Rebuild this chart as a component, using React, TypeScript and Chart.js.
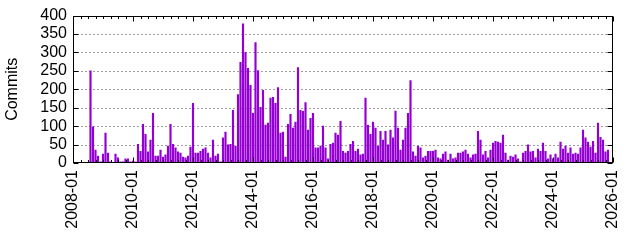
import React, { useEffect, useRef } from "react";
import { Chart, registerables } from "chart.js";

Chart.register(...registerables);

// Monthly commit counts, 2008-01 .. 2025-12 (one row per year)
const startYear = 2008;
const monthlyCommits: number[] = [
  0, 0, 0, 0, 0, 0, 0, 250, 98, 35, 19, 3, // 2008
  24, 81, 27, 3, 2, 24, 14, 3, 3, 11, 11, 3, // 2009
  5, 3, 51, 32, 105, 78, 30, 62, 135, 19, 19, 35, // 2010
  16, 22, 46, 105, 51, 41, 30, 27, 16, 14, 19, 43, // 2011
  162, 27, 27, 32, 38, 41, 27, 14, 62, 19, 24, 3, // 2012
  68, 84, 49, 51, 143, 46, 186, 273, 378, 300, 257, 211, // 2013
  135, 327, 251, 151, 197, 103, 108, 176, 178, 162, 205, 81, // 2014
  84, 16, 105, 132, 95, 111, 259, 143, 140, 164, 89, 121, // 2015
  135, 41, 41, 46, 100, 41, 11, 51, 54, 81, 76, 113, // 2016
  32, 27, 32, 51, 59, 32, 38, 22, 24, 176, 103, 78, // 2017
  111, 95, 46, 86, 62, 86, 49, 89, 68, 141, 95, 35, // 2018
  62, 95, 135, 224, 30, 19, 46, 41, 14, 19, 32, 32, // 2019
  32, 35, 14, 11, 24, 30, 8, 24, 11, 14, 27, 27, // 2020
  30, 35, 24, 14, 22, 24, 86, 62, 22, 32, 14, 35, // 2021
  54, 59, 57, 54, 76, 27, 8, 19, 16, 22, 11, 3, // 2022
  27, 32, 49, 30, 32, 14, 38, 32, 54, 32, 11, 22, // 2023
  11, 24, 14, 57, 38, 46, 27, 41, 24, 27, 24, 41, // 2024
  89, 68, 57, 43, 59, 27, 108, 70, 62, 30, 35, 0, // 2025
];

const xTickLabels = [
  "2008-01", "2010-01", "2012-01", "2014-01", "2016-01",
  "2018-01", "2020-01", "2022-01", "2024-01", "2026-01",
];
const yTicks = [0, 50, 100, 150, 200, 250, 300, 350, 400];
const yTitle = "Commits";

const FAMILY = "'Liberation Sans', Arial, sans-serif";
const FONT = { family: FAMILY, size: 16 };

const framePlugin = {
  id: "gnuplotFrame",
  beforeDatasetsDraw(chart: any) {
    const { ctx, chartArea: a, scales } = chart;
    const y = scales.y;
    ctx.save();
    ctx.strokeStyle = "#a0a0a0";
    ctx.lineWidth = 1;
    ctx.setLineDash([2, 2]);
    for (const v of yTicks) {
      if (v === yTicks[0] || v === yTicks[yTicks.length - 1]) continue;
      const py = Math.round(y.getPixelForValue(v)) + 0.5;
      ctx.beginPath();
      ctx.moveTo(a.left, py);
      ctx.lineTo(a.right, py);
      ctx.stroke();
    }
    ctx.restore();
  },
  afterDatasetsDraw(chart: any) {
    const { ctx, chartArea: a, scales } = chart;
    const x = scales.x;
    const y = scales.y;
    const L = Math.round(a.left) + 0.5;
    const R = Math.round(a.right) - 0.5;
    const T = Math.round(a.top) + 0.5;
    const B = Math.round(a.bottom) - 0.5;
    ctx.save();
    ctx.strokeStyle = "#000";
    ctx.lineWidth = 1;
    ctx.setLineDash([]);
    ctx.strokeRect(L, T, R - L, B - T);
    ctx.beginPath();
    for (const v of yTicks) {
      const py = Math.round(y.getPixelForValue(v)) + 0.5;
      ctx.moveTo(L, py);
      ctx.lineTo(L + 5, py);
      ctx.moveTo(R, py);
      ctx.lineTo(R - 5, py);
    }
    for (let m = 0; m <= monthlyCommits.length; m += 3) {
      const px = Math.round(x.getPixelForValue(m)) + 0.5;
      const len = m % 24 === 0 ? 5 : 2.5;
      ctx.moveTo(px, B);
      ctx.lineTo(px, B - len);
      ctx.moveTo(px, T);
      ctx.lineTo(px, T + len);
    }
    ctx.stroke();
    ctx.restore();
  },
};

export default function App() {
  const ref = useRef<HTMLCanvasElement>(null);
  useEffect(() => {
    const chart = new Chart(ref.current as HTMLCanvasElement, {
      type: "bar",
      data: {
        datasets: [
          {
            data: monthlyCommits.map((v, i) => ({ x: i, y: v })) as any,
            backgroundColor: "#9400d3",
            borderWidth: 0,
            barThickness: 1.5,
          },
        ],
      },
      options: {
        responsive: false,
        animation: false,
        events: [],
        layout: { padding: { top: 15, right: 27, left: 0, bottom: 0 } },
        plugins: { legend: { display: false }, tooltip: { enabled: false } },
        scales: {
          x: {
            type: "linear",
            min: 0,
            max: monthlyCommits.length,
            offset: false,
            grid: { display: false, drawTicks: false },
            border: { display: false },
            ticks: {
              stepSize: 24,
              autoSkip: false,
              minRotation: 90,
              maxRotation: 90,
              padding: 7,
              color: "#000",
              font: FONT,
              callback: (v: any) =>
                Number(v) % 24 === 0
                  ? xTickLabels[Number(v) / 24] ?? `${startYear + Number(v) / 12}-01`
                  : "",
            },
            afterFit: (s: any) => {
              s.height = 77;
            },
          },
          y: {
            min: 0,
            max: 400,
            grid: { display: false, drawTicks: false },
            border: { display: false },
            ticks: { stepSize: 50, autoSkip: false, padding: 6, color: "#000", font: FONT },
            title: {
              display: true,
              text: yTitle,
              color: "#000",
              font: FONT,
              padding: { top: 3, bottom: 0 },
            },
            afterFit: (s: any) => {
              s.width = 73;
            },
          },
        },
      },
      plugins: [framePlugin],
    } as any);
    return () => chart.destroy();
  }, []);
  return (
    <div style={{ position: "absolute", left: 0, top: 0, width: 640, height: 240, background: "#fff" }}>
      <canvas ref={ref} width={640} height={240} style={{ display: "block" }} />
    </div>
  );
}
